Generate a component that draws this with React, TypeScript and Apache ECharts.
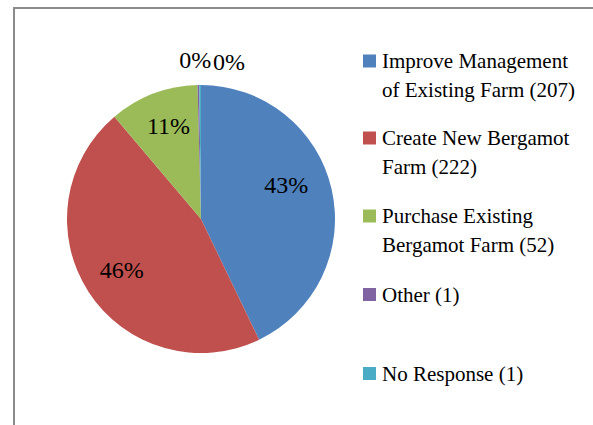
import React, { useEffect, useRef } from "react";
import * as echarts from "echarts";

const categories = [
  "Improve Management of Existing Farm",
  "Create New Bergamot Farm",
  "Purchase Existing Bergamot Farm",
  "Other",
  "No Response",
];
const counts = [207, 222, 52, 1, 1];
const legendLines = [
  ["Improve Management", "of Existing Farm (207)"],
  ["Create New Bergamot", "Farm (222)"],
  ["Purchase Existing", "Bergamot Farm (52)"],
  ["Other (1)"],
  ["No Response (1)"],
];
const colors = ["#4F81BD", "#C0504D", "#9BBB59", "#8064A2", "#4BACC6"];

const legendFirstLineCenters = [61, 138, 216, 296, 375];
const FONT = "Liberation Serif";

export default function App() {
  const ref = useRef<HTMLDivElement>(null);
  useEffect(() => {
    if (!ref.current) return;
    const chart = echarts.init(ref.current, null, { renderer: "svg" });
    const data = categories.map((c, i) => ({ name: c, value: counts[i] }));
    const center = [201, 219];
    const R = 134;
    const legends = categories.map((c, i) => {
      const lines = legendLines[i];
      const multi = lines.length > 1;
      return {
        orient: "vertical",
        left: 363,
        top: legendFirstLineCenters[i] - (multi ? 43.5 : 16),
        padding: 0,
        selectedMode: false,
        icon: "rect",
        itemWidth: 13,
        itemHeight: 13,
        data: [c],
        formatter: () => (multi ? "\n" : "") + lines.join("\n"),
        textStyle: {
          fontFamily: FONT,
          fontSize: 21,
          color: "#000",
          lineHeight: 29,
          padding: [0, 0, 0, 1],
        },
      };
    });
    chart.setOption({
      animation: false,
      color: colors,
      textStyle: { fontFamily: FONT },
      graphic: [
        {
          type: "rect",
          shape: { x: 14, y: 8, width: 640, height: 460 },
          style: { fill: "none", stroke: "#8c8c8c", lineWidth: 2 },
          silent: true,
        },
      ],
      legend: legends,
      series: [
        {
          type: "pie",
          center,
          radius: [0, R],
          startAngle: 90,
          clockwise: true,
          avoidLabelOverlap: false,
          label: { show: false },
          labelLine: { show: false },
          itemStyle: { borderWidth: 0 },
          emphasis: { disabled: true },
          data,
        },
        {
          type: "pie",
          center,
          radius: [R * 0.4, R],
          startAngle: 90,
          clockwise: true,
          silent: true,
          avoidLabelOverlap: false,
          itemStyle: { color: "rgba(0,0,0,0)", borderWidth: 0 },
          emphasis: { disabled: true },
          label: {
            show: true,
            position: "inside",
            fontFamily: FONT,
            fontSize: 24,
            color: "#000",
            formatter: (p: any) => Math.round(p.percent) + "%",
          },
          labelLine: { show: false },
          labelLayout: (p: any) => {
            if (p.dataIndex === 0) return { dx: -9, dy: -12 };
            if (p.dataIndex === 1) return { dx: 2, dy: -2 };
            if (p.dataIndex === 2) return { dx: 2, dy: -3 };
            if (p.dataIndex === 3) return { dx: 18, dy: -13 };
            if (p.dataIndex === 4) return { dx: 50, dy: -11 };
            return {};
          },
          data: data.map((d, i) =>
            i >= 3
              ? {
                  ...d,
                  label: { position: "outside" },
                  labelLine: { show: false, length: 12, length2: 0 },
                }
              : d
          ),
        },
      ],
    });
    return () => chart.dispose();
  }, []);
  return (
    <div
      ref={ref}
      style={{ position: "fixed", left: 0, top: 0, width: 593, height: 425, background: "#fff" }}
    />
  );
}
